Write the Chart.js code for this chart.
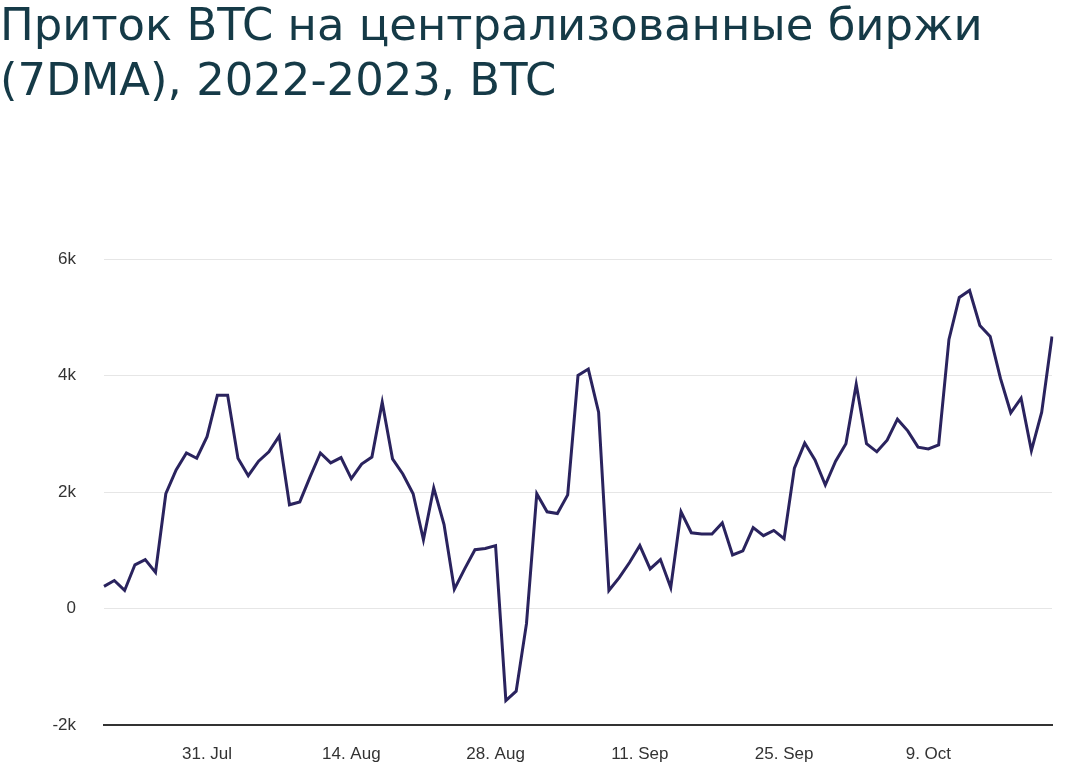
<!DOCTYPE html>
<html><head><meta charset="utf-8">
<script src="https://cdn.jsdelivr.net/npm/chart.js@4"></script>
<style>
html,body{margin:0;padding:0;background:#fff;width:1080px;height:776px;overflow:hidden;}
#title{position:absolute;left:0;top:0;font-family:"DejaVu Sans","Noto Sans",sans-serif;color:#153a47;font-weight:normal;white-space:nowrap;line-height:55px;}
#title div{display:block;}
#wrap{position:absolute;left:0;top:0;width:1080px;height:776px;}
</style></head>
<body>
<div id="wrap"><canvas id="c" width="1080" height="776"></canvas></div>
<div id="title"><div id="t1">Приток BTC на централизованные биржи</div><div id="t2">(7DMA), 2022-2023, BTC</div></div>
<script>
const startDate = "2022-07-21";
const tickLabels = ["31. Jul","14. Aug","28. Aug","11. Sep","25. Sep","9. Oct"];
const inflowBTC = [
 380,480,310,750,840,620,1970,2380,2670,2580,2950,3660,3660,2580,2280,2530,2690,2960,1780,1830,
 2260,2670,2500,2590,2230,2480,2600,3540,2570,2310,1970,1180,2070,1440,330,680,1010,1030,1080,-1580,
 -1420,-260,1970,1660,1630,1950,4000,4110,3370,310,530,790,1080,680,840,360,1660,1300,1280,1280,
 1470,920,990,1390,1250,1340,1200,2410,2840,2550,2120,2530,2830,3850,2830,2690,2890,3250,3050,2770,
 2740,2810,4620,5340,5460,4860,4670,3950,3360,3610,2710,3370,4670
];
const yTicks = [-2000,0,2000,4000,6000];

const months=["Jan","Feb","Mar","Apr","May","Jun","Jul","Aug","Sep","Oct","Nov","Dec"];
const d0 = new Date(startDate+"T00:00:00Z");
const categories = inflowBTC.map((_,i)=>{const d=new Date(d0.getTime()+i*86400000);return d.getUTCDate()+". "+months[d.getUTCMonth()];});

function fit(el,w){let s=40;el.style.fontSize=s+"px";const r=el.getBoundingClientRect().width;el.style.fontSize=(s*w/r)+"px";}
fit(document.getElementById('t1'),983);
document.getElementById('t2').style.fontSize=document.getElementById('t1').style.fontSize;
document.getElementById('title').style.top="-3px";

new Chart(document.getElementById('c'),{
 type:'line',
 data:{labels:categories,datasets:[{data:inflowBTC,borderColor:'#2a235e',borderWidth:3,pointRadius:0,tension:0,fill:false,borderJoinStyle:'miter'}]},
 options:{
  responsive:false,animation:false,
  layout:{padding:{top:259,right:28,left:0,bottom:0}},
  plugins:{legend:{display:false},tooltip:{enabled:false}},
  scales:{
   x:{type:'category',offset:false,
      grid:{display:false,drawTicks:false},
      border:{display:true,color:'#333333',width:2},
      ticks:{autoSkip:false,maxRotation:0,padding:19,color:'#333333',font:{family:'"Liberation Sans", Arial, sans-serif',size:17},
        callback:function(v,i){const l=categories[i];return tickLabels.includes(l)?l:'';}},
      afterFit:s=>{s.height=51;}},
   y:{min:-2000,max:6000,
      afterBuildTicks:s=>{s.ticks=yTicks.map(v=>({value:v}));},
      grid:{color:'#e6e6e6',lineWidth:1,drawTicks:false},
      border:{display:false},
      ticks:{padding:28,color:'#333333',font:{family:'"Liberation Sans", Arial, sans-serif',size:17},
        callback:v=>v===0?'0':(v/1000)+'k'},
      afterFit:s=>{s.width=104;}}
  }
 }
});
</script>
</body></html>
